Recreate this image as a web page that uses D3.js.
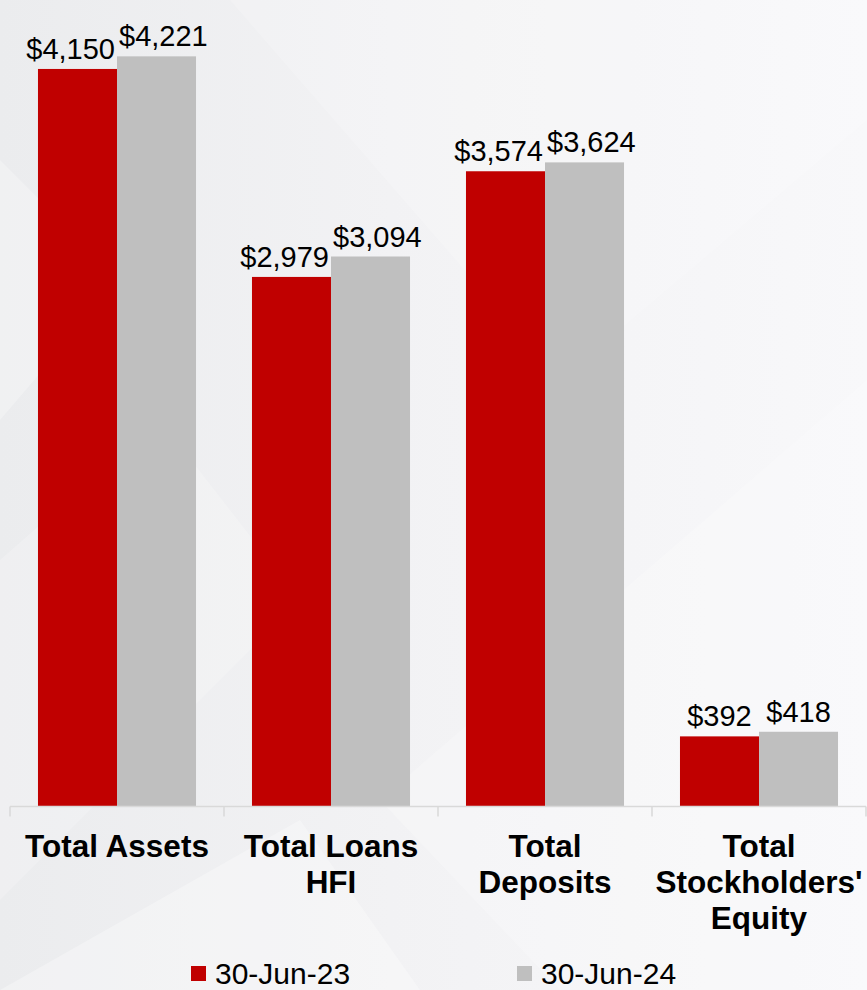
<!DOCTYPE html>
<html>
<head>
<meta charset="utf-8">
<script src="https://cdn.jsdelivr.net/npm/d3@7"></script>
<style>
  body { margin: 0; background: #f4f4f6; }
  svg { display: block; font-family: "Liberation Sans", Arial, sans-serif; }
</style>
</head>
<body>
<svg id="chart" width="867" height="990"></svg>
<script>
const categories = [["Total Assets"], ["Total Loans", "HFI"], ["Total", "Deposits"], ["Total", "Stockholders'", "Equity"]]
const series = ["30-Jun-23", "30-Jun-24"]
const jun23 = [4150, 2979, 3574, 392]
const jun24 = [4221, 3094, 3624, 418]
const colors = ["#c00000", "#bfbfbf"]

const W = 867, H = 990
const svg = d3.select("#chart")

// soft faceted background
const defs = svg.append("defs")
const grad = defs.append("linearGradient").attr("id", "bg").attr("x1", 0).attr("x2", 1).attr("y1", 0).attr("y2", 0)
grad.append("stop").attr("offset", "0%").attr("stop-color", "#ebecee")
grad.append("stop").attr("offset", "45%").attr("stop-color", "#f2f2f4")
grad.append("stop").attr("offset", "100%").attr("stop-color", "#f8f8fa")
svg.append("rect").attr("width", W).attr("height", H).attr("fill", "url(#bg)")
const facets = [
  [[0, 160], [120, 280], [0, 420]],
  [[0, 560], [160, 420], [300, 600], [0, 900]],
  [[230, 0], [867, 0], [867, 120], [560, 380]],
  [[380, 800], [867, 380], [867, 990], [560, 990]],
  [[0, 990], [300, 820], [420, 990]]
]
svg.selectAll(".facet").data(facets).enter().append("polygon")
  .attr("points", d => d.map(p => p.join(",")).join(" "))
  .attr("fill", "#ffffff").attr("opacity", (d, i) => [0.25, 0.2, 0.18, 0.22, 0.3][i])

const x = d3.scaleBand().domain(d3.range(categories.length)).range([10, 866]).paddingInner(0).paddingOuter(0)
const xs = d3.scaleBand().domain(series).range([0, x.bandwidth()]).paddingInner(0).paddingOuter(0.354)
const y = d3.scaleLinear().domain([0, 4500]).range([806, 6.8])

const rows = categories.map((c, i) => ({i, vals: [jun23[i], jun24[i]]}))

const g = svg.append("g")
const grp = g.selectAll(".cat").data(rows).enter().append("g")
  .attr("transform", d => "translate(" + x(d.i) + ",0)")

grp.selectAll("rect").data(d => d.vals.map((v, k) => ({v, k}))).enter().append("rect")
  .attr("x", d => xs(series[d.k]))
  .attr("width", xs.bandwidth())
  .attr("y", d => y(d.v))
  .attr("height", d => y(0) - y(d.v))
  .attr("fill", d => colors[d.k])

// value labels, pushed apart when a pair would overlap
grp.each(function(d) {
  const sel = d3.select(this)
  const labs = d.vals.map((v, k) => sel.append("text")
    .attr("x", xs(series[k]) + xs.bandwidth() / 2)
    .attr("y", y(v) - 10)
    .attr("text-anchor", "middle")
    .style("font-size", "29px")
    .attr("fill", "#000")
    .text("$" + d3.format(",")(v)))
  const b0 = labs[0].node().getBBox(), b1 = labs[1].node().getBBox()
  const over = b0.x + b0.width - b1.x
  if (over > -2) {
    labs[0].attr("x", +labs[0].attr("x") - over / 2 - 2)
    labs[1].attr("x", +labs[1].attr("x") + over / 2 + 2)
  }
})

// axis
const axis = g.append("g").attr("transform", "translate(0,806.5)")
axis.append("line").attr("x1", 10).attr("x2", 866).attr("stroke", "#d9d9d9").attr("stroke-width", 1.5)
axis.selectAll(".tk").data(d3.range(categories.length + 1)).enter().append("line")
  .attr("x1", i => i < categories.length ? x(i) : x(i - 1) + x.bandwidth())
  .attr("x2", i => i < categories.length ? x(i) : x(i - 1) + x.bandwidth())
  .attr("y1", 0).attr("y2", 10)
  .attr("stroke", "#d9d9d9").attr("stroke-width", 1.5)

grp.append("text")
  .attr("text-anchor", "middle")
  .style("font-size", "31.5px").style("font-weight", "bold")
  .attr("fill", "#000")
  .selectAll("tspan").data(d => categories[d.i]).enter().append("tspan")
  .attr("x", x.bandwidth() / 2)
  .attr("y", (t, j) => 857 + j * 36)
  .text(t => t)

// legend
const legX = [191, 517]
const leg = svg.selectAll(".leg").data(series).enter().append("g")
  .attr("transform", (d, i) => "translate(" + legX[i] + ",966)")
leg.append("rect").attr("width", 15).attr("height", 15).attr("fill", (d, i) => colors[i])
leg.append("text").attr("x", 24).attr("y", 18)
  .style("font-size", "30px").attr("fill", "#000")
  .text(d => d)
</script>
</body>
</html>
